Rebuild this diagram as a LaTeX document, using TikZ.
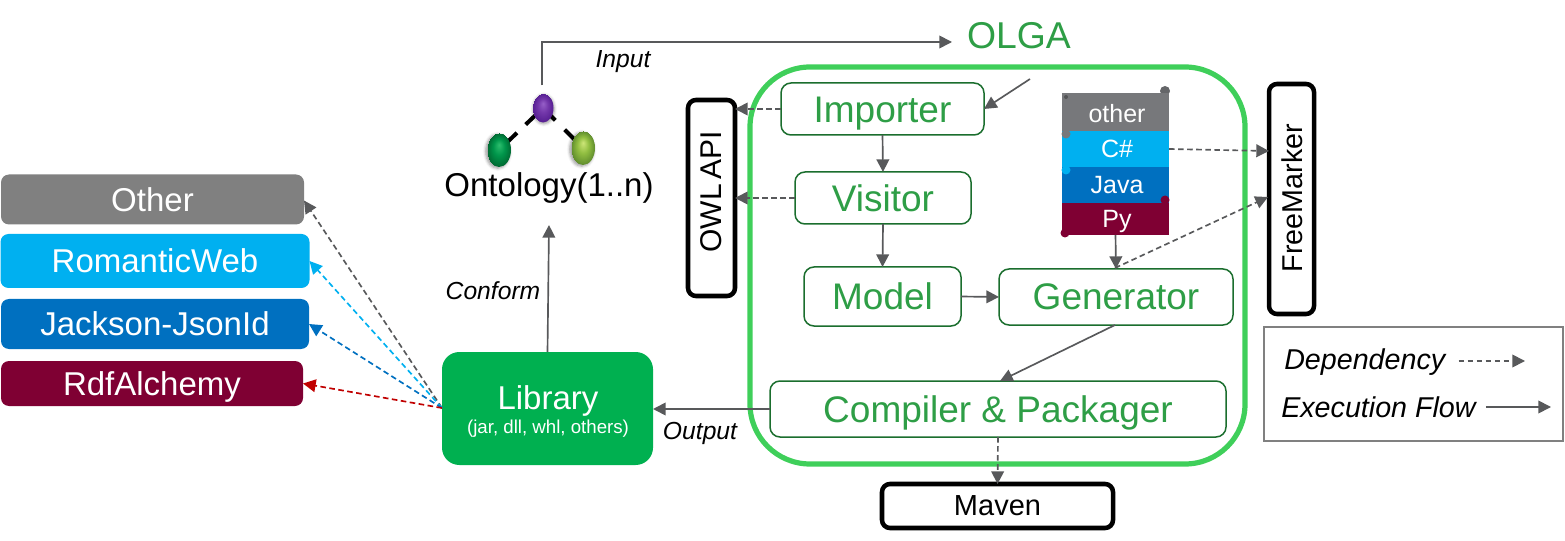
\documentclass[tikz,border=0pt]{standalone}
\usepackage{fontspec}
\setmainfont{Liberation Sans}
\usetikzlibrary{arrows.meta,shapes.geometric,calc,shadows.blur}
\definecolor{flow}{HTML}{58595B}
\definecolor{boxgreen}{HTML}{1B6E2E}
\definecolor{txtgreen}{HTML}{2E9E46}
\definecolor{biggreen}{HTML}{3FCF5A}
\definecolor{libgreen}{HTML}{00B050}
\definecolor{cyanb}{HTML}{00B0F0}
\definecolor{blueb}{HTML}{0070C0}
\definecolor{wine}{HTML}{7F0033}
\definecolor{grayb}{HTML}{808080}
\definecolor{graystack}{HTML}{77787B}
\definecolor{redarrow}{HTML}{C00000}
\definecolor{pa}{RGB}{150,95,200}
\definecolor{pb}{RGB}{115,55,170}
\definecolor{pc}{RGB}{85,30,145}
\definecolor{ga}{RGB}{45,190,110}
\definecolor{gb}{RGB}{0,150,75}
\definecolor{gc}{RGB}{0,105,50}
\definecolor{la}{RGB}{205,230,120}
\definecolor{lb}{RGB}{145,190,65}
\definecolor{lc}{RGB}{95,140,45}
\pgfdeclareradialshading{purpleball}{\pgfpoint{0bp}{8bp}}{color(0bp)=(pa); color(12bp)=(pb); color(25bp)=(pc)}
\pgfdeclareradialshading{greenball}{\pgfpoint{0bp}{8bp}}{color(0bp)=(ga); color(12bp)=(gb); color(25bp)=(gc)}
\pgfdeclareradialshading{limeball}{\pgfpoint{0bp}{8bp}}{color(0bp)=(la); color(12bp)=(lb); color(25bp)=(lc)}
\tikzset{
  x=.75pt,y=-.75pt,
  sz/.style 2 args={minimum width=#1*.75pt,minimum height=#2*.75pt,inner sep=0pt,outer sep=0pt},
  fs/.style={font=\fontsize{#1}{#1}\selectfont},
  fsi/.style={font=\fontsize{#1}{#1}\selectfont\itshape},
  lang/.style={rectangle,rounded corners=6pt,text=white,fs=24.75,text depth=0pt},
  stepbox/.style={draw=boxgreen,line width=1.5pt*.75,rounded corners=7.5pt,fill=white,text=txtgreen,fs=27.75,text depth=0pt},
  toolbox/.style={draw=black,line width=3.4pt,rounded corners=6pt,fill=white,text=black},
  stackbox/.style={rectangle,text=white,fs=18.75,text depth=0pt},
  flowline/.style={draw=flow,line width=1.25pt,-{Triangle[length=9.5pt,width=9.5pt,fill=flow]}},
  depline/.style={draw=#1,line width=1.25pt,dash pattern=on 4.2pt off 2.6pt,-{Triangle[length=9.5pt,width=9.5pt,fill=#1]}},
  depline/.default=flow,
  lab/.style={fsi=18.5,text=black},
  bump/.style={circle,inner sep=0pt,minimum size=#1*.75pt},
}
\begin{document}
\begin{tikzpicture}
\useasboundingbox (0,0) rectangle (1565,541);
% language boxes
\node[lang,fill=grayb,sz={303}{50}] (other) at (152.5,199.5) {Other};
\node[lang,fill=cyanb,sz={309}{54}] (romantic) at (155,261) {RomanticWeb};
\node[lang,fill=blueb,sz={308}{50}] (jackson) at (155,324) {Jackson-JsonId};
\node[lang,fill=wine,sz={302}{45}] (rdf) at (152,383.5) {RdfAlchemy};
% library
\node[sz={211}{113},fill=libgreen,rounded corners=13pt] (lib) at (547.5,408.5) {};
\node[text=white,fs=24.75,inner sep=0pt,text depth=0pt] (libname) at (548,398) {Library};
\node[text=white,fs=14,inner sep=0pt] (libsub) at (548,429) {(jar, dll, whl, others)};
% big frame
\node[sz={495}{397},draw=biggreen,line width=3.9pt,rounded corners=45pt] (frame) at (997.5,265.5) {};
% tools
\node[toolbox,sz={47}{196}] (owl) at (711.5,198) {};
\node[rotate=90,fs=22.5,inner sep=0pt] (owltxt) at (711.5,191.5) {OWL\hspace{-2.5pt} API};
\node[toolbox,sz={45}{230}] (free) at (1291.5,199) {};
\node[rotate=90,fs=21.5,inner sep=0pt] (freetxt) at (1292,198) {FreeMarker};
\node[toolbox,sz={231}{44},fs=21.75] (maven) at (997.5,506) {Maven};
% steps
\node[stepbox,sz={203}{52},text height=20pt] (imp) at (882.5,109) {Importer};
\node[stepbox,sz={176}{52}] (vis) at (883,198) {Visitor};
\node[stepbox,sz={157}{59}] (model) at (882.5,296.5) {Model};
\node[stepbox,sz={234}{56}] (gen) at (1116,297) {Generator};
\node[stepbox,sz={456}{56}] (comp) at (998,409) {Compiler \& Packager};
% stack
\node[bump=10,fill=graystack!85!black] (b1) at (1165,91) {};
\node[stackbox,fill=graystack,sz={107}{38}] (sother) at (1115.5,112) {};
\node[bump=4,fill=graystack!70!black] (b2) at (1066,97) {};
\node[stackbox,fill=cyanb,sz={107}{36}] (scs) at (1115.5,149) {};
\node[bump=9,fill=graystack] (b3) at (1066,134) {};
\node[stackbox,fill=blueb,sz={107}{36}] (sjava) at (1115.5,185) {};
\node[bump=9,fill=cyanb] (b4) at (1066,170) {};
\node[bump=9,fill=wine] (b5) at (1165,200) {};
\node[stackbox,fill=wine,sz={107}{32}] (spy) at (1115.5,219) {};
\node[bump=9,fill=wine] (b6) at (1065,233) {};
\node[stackbox,inner sep=0pt] (tother) at (1117,113) {other};
\node[stackbox,inner sep=0pt] (tcs) at (1117,149) {C\#};
\node[stackbox,inner sep=0pt] (tjava) at (1117,185) {Java};
\node[stackbox,inner sep=0pt] (tpy) at (1117,219) {Py};
% ontology
\node[fs=24.75,inner sep=0pt,text depth=0pt] (onto) at (549,185) {Ontology(1..n)};
\draw[black,line width=3pt,dash pattern=on 18pt off 9pt on 30pt off 9pt] (543,108) -- (499,150);
\draw[black,line width=3pt,dash pattern=on 13pt off 10pt on 30pt off 9pt] (543,108) -- (583,148);
\node[ellipse,sz={21}{29},shade,shading=purpleball,blur shadow={shadow xshift=.5pt,shadow yshift=-1pt,shadow blur steps=4}] (pball) at (543,108) {};
\node[ellipse,sz={24}{34},shade,shading=greenball,blur shadow={shadow xshift=-1pt,shadow yshift=-1pt,shadow blur steps=4}] (gball) at (499,150) {};
\node[ellipse,sz={24}{34},shade,shading=limeball,blur shadow={shadow xshift=-1pt,shadow yshift=-1pt,shadow blur steps=4}] (lball) at (583,148) {};
% titles and labels
\node[fs=28,text=txtgreen,inner sep=0pt] (olga) at (1019,36) {OLGA};
\node[lab,inner sep=0pt] (linput) at (623,62) {Input};
\node[lab,inner sep=0pt] (lconform) at (493,291) {Conform};
\node[lab,inner sep=0pt] (loutput) at (700,433) {Output};
% coordinates
\coordinate (inend) at (952,42);
\coordinate (olgaout) at (1030,79);
\coordinate (ontoin) at (549,225);
\coordinate (libdep) at (442,408);
\coordinate (genout) at (1115,325);
\coordinate (compin) at (1000,381);
\coordinate (gendep) at (1115,268);
\coordinate (fmdep) at (1268,197);
% connectors
\draw[flowline] (pball.north) ++(-1,-8) |- (inend);
\draw[flowline] (olgaout) -- (imp.east);
\draw[flowline] (imp.south) -- (vis.north);
\draw[flowline] (vis.south) -- (model.north);
\draw[flowline] (model.east) -- (gen.west);
\draw[flowline] (spy.south) -- (gen.north);
\draw[flowline] (genout) -- (compin);
\draw[flowline] (comp.west) -- (lib.east |- comp.west);
\draw[flowline] (lib.north) -- (ontoin);
\draw[depline] (imp.west) -- (owl.east |- imp.west);
\draw[depline] (vis.west) -- (owl.east |- vis.west);
\draw[depline] (comp.south) -- (maven.north);
\draw[depline] (scs.east) -- ($(free.west |- scs.east)+(0,2)$);
\draw[depline] (gendep) -- (fmdep);
\draw[depline] (libdep) -- ($(other.east)+(0,1)$);
\draw[depline=cyanb] (libdep) -- (romantic.east);
\draw[depline=blueb] (libdep) -- (jackson.east);
\draw[depline=redarrow] (libdep) -- (rdf.east);
% legend
\node[sz={299}{114},draw=grayb,line width=1.1pt] (legend) at (1413.5,384) {};
\node[fsi=21.5,inner sep=0pt,anchor=west] (ldep) at (1284,362) {Dependency};
\node[fsi=21.5,inner sep=0pt,anchor=west] (lflow) at (1281,407) {Execution Flow};
\coordinate (ldepend) at (1525,361);
\coordinate (lflowend) at (1551,407);
\draw[depline] (ldep.east |- ldepend) ++(13,0) -- (ldepend);
\draw[flowline] ($(lflow.east)+(10,0)$) -- (lflowend);
\end{tikzpicture}
\end{document}
